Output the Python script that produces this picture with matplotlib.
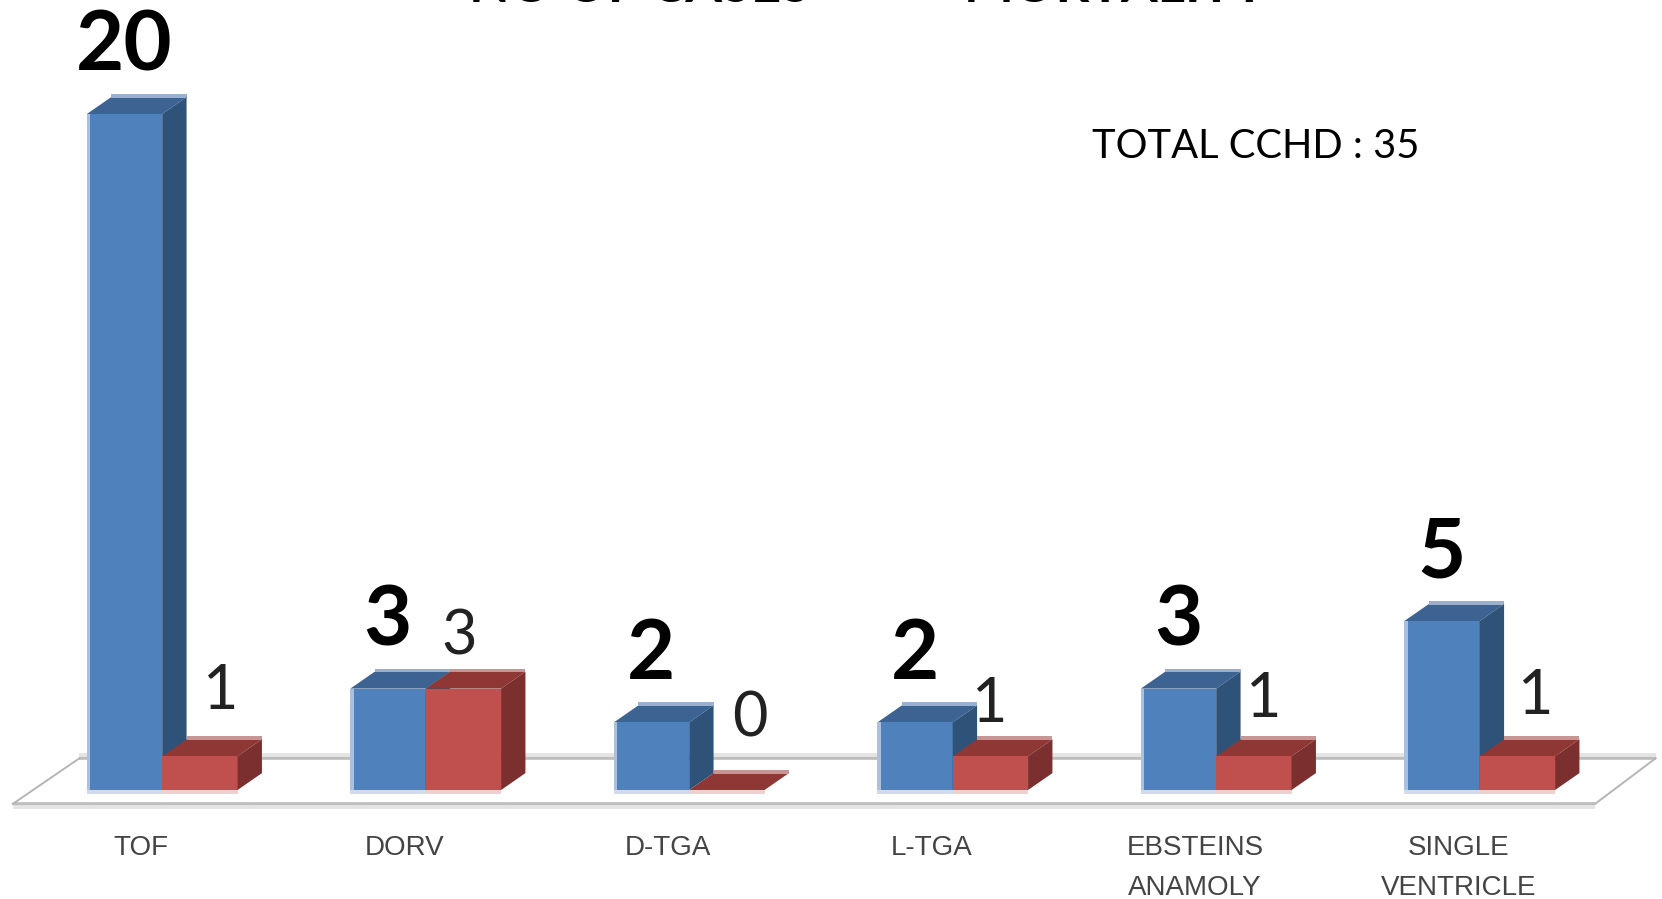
#!/usr/bin/env python3
"""Fake-3D clustered bars: no. of cases and mortality per CCHD type."""
import matplotlib
matplotlib.use("Agg")
import matplotlib.pyplot as plt
from matplotlib.patches import Polygon, Rectangle

categories = ["TOF", "DORV", "D-TGA", "L-TGA", "EBSTEINS\nANAMOLY", "SINGLE\nVENTRICLE"]
cases = [20, 3, 2, 2, 3, 5]
mortality = [1, 3, 0, 1, 1, 1]

# hand placed offsets (px) of the thin labels, relative to bar join / bar top
mort_dx = [59, 33, 61, 37, 48, 56]
mort_dy = [65, 52, 71, 52, 57, 60]

W, H = 1662, 899
PX_X = 263.5      # px per category
PX_Y = 33.8       # px per case
X0, Y0 = 162.2, 790.0
BAR = 0.286
DX, DY = 0.0925, 0.5

plt.rcParams["font.family"] = ["Lato", "DejaVu Sans"]
fig = plt.figure(figsize=(W / 100, H / 100), dpi=100)
ax = fig.add_axes([0, 0, 1, 1])
ax.set_xlim(-X0 / PX_X, (W - X0) / PX_X)
ax.set_ylim(-(H - Y0) / PX_Y, Y0 / PX_Y)
ax.axis("off")


def floor_line(x0, x1, y, color, lw):
    ax.plot([x0, x1], [y, y], color=color, lw=lw, solid_capstyle="butt", zorder=1)


def draw_bar(x, v, front, top, side, edge, halo):
    ax.add_patch(Polygon([(x, v), (x + BAR, v), (x + BAR + DX, v + DY), (x + DX, v + DY)],
                         fc=top, ec="none", zorder=3))
    ax.add_patch(Polygon([(x + DX, v + DY - 0.02), (x + BAR + DX, v + DY - 0.02),
                          (x + BAR + DX, v + DY + 0.09), (x + DX, v + DY + 0.09)],
                         fc=edge, ec="none", zorder=3))
    if v > 0:
        ax.add_patch(Rectangle((x, 0), BAR, v, fc=front, ec="none", zorder=3))
        ax.add_patch(Polygon([(x + BAR, 0), (x + BAR + DX, DY), (x + BAR + DX, v + DY), (x + BAR, v)],
                             fc=side, ec="none", zorder=3))
    ax.add_patch(Rectangle((x, -0.12), BAR, 0.12, fc=halo, ec="none", zorder=3))


# floor
fx0, fx1 = -0.567, 5.438
bx0, bx1 = -0.314, 5.668
fy, by = -0.41, 0.94
floor_line(fx0, fx1, fy, "#BDBDBD", 2.6)
floor_line(fx0, fx1, fy - 0.105, "#E4E4E4", 2.8)
floor_line(bx0, bx1, by, "#BDBDBD", 2.6)
floor_line(bx0, bx1, by + 0.105, "#E4E4E4", 2.8)
ax.plot([fx0, bx0], [fy, by], color="#B5B5B5", lw=1.4, zorder=1)
ax.plot([fx1, bx1], [fy, by], color="#B5B5B5", lw=1.4, zorder=1)

for i in range(len(categories)):
    draw_bar(i - BAR, cases[i], "#4F81BD", "#3C6391", "#2F5278", "#9BB0CC", "#D0DCEE")
    ax.add_patch(Rectangle((i - BAR, 0), 0.012, cases[i], fc="#A9C0DE", ec="none", zorder=3))
    draw_bar(i, mortality[i], "#C0504D", "#8E3735", "#7B2F2E", "#C69694", "#F0D0CF")

    ax.annotate(str(cases[i]), (i, cases[i]), xytext=(-38 * 0.72, 67 * 0.72),
                textcoords="offset points", ha="center", va="center",
                fontsize=60, fontweight="bold", color="black", zorder=5)
    ax.annotate(str(mortality[i]), (i, mortality[i]), xytext=(mort_dx[i] * 0.72, mort_dy[i] * 0.72),
                textcoords="offset points", ha="center", va="center",
                fontsize=44, fontweight="normal", color="#222222", zorder=5)
    ax.text(i - 0.08, -1.32, categories[i], ha="center", va="top", fontsize=20,
            family="Liberation Sans", color="#444444", linespacing=1.7, zorder=5)

# title is cut off by the top edge in the source image
fig.text(469 / W, 1 - 1.5 / H, "NO OF CASES", fontsize=38, fontweight="bold",
         ha="left", va="baseline", color="black")
fig.text(964 / W, 1 - 1.5 / H, "MORTALITY", fontsize=38, fontweight="bold",
         ha="left", va="baseline", color="black")
fig.text(1092 / W, 1 - 146 / H, "TOTAL CCHD : 35", fontsize=28.7, ha="left", va="center",
         color="black")

fig.savefig("out.png", dpi=100)
